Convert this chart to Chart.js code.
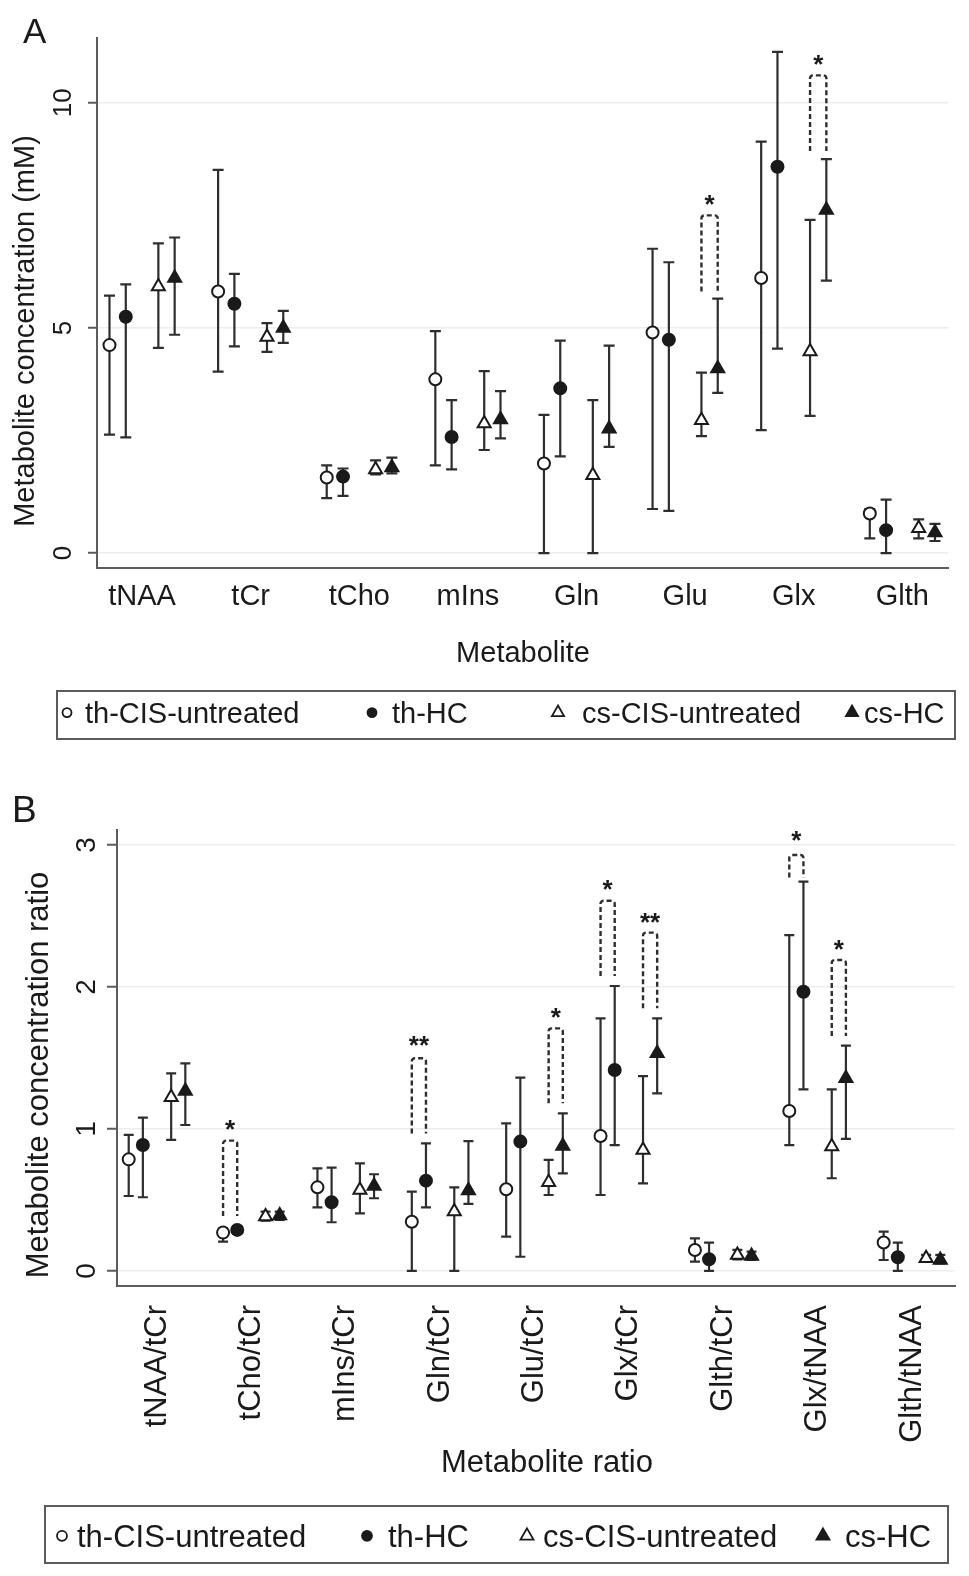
<!DOCTYPE html>
<html>
<head>
<meta charset="utf-8">
<script src="https://cdn.jsdelivr.net/npm/chart.js@4.4.1/dist/chart.umd.min.js"></script>
<style>
  html, body { margin: 0; padding: 0; background: #fff; }
  canvas { display: block; }
</style>
</head>
<body>
<canvas id="chartA" width="969" height="760"></canvas>
<canvas id="chartB" width="969" height="816"></canvas>
<script>
// series shared by both panels
const seriesNames = ['th-CIS-untreated', 'th-HC', 'cs-CIS-untreated', 'cs-HC'];
const seriesShape = ['circle', 'circle', 'triangle', 'triangle'];
const seriesFilled = [false, true, false, true];
const seriesOffset = [-0.3, -0.15, 0.15, 0.3];

// --- panel A: metabolite concentration (mM) ---
const metabolites = ['tNAA', 'tCr', 'tCho', 'mIns', 'Gln', 'Glu', 'Glx', 'Glth'];
const ticksA = [0, 5, 10];

const thCisA   = [4.62, 5.81, 1.68, 3.86, 1.99, 4.90, 6.11, 0.88];
const thCisLoA = [2.63, 4.03, 1.22, 1.95, 0.00, 0.98, 2.73, 0.33];
const thCisHiA = [5.72, 8.51, 1.95, 4.93, 3.07, 6.76, 9.14, 0.98];

const thHcA    = [5.25, 5.54, 1.70, 2.58, 3.66, 4.74, 8.58, 0.51];
const thHcLoA  = [2.57, 4.59, 1.27, 1.86, 2.15, 0.94, 4.54, 0.00];
const thHcHiA  = [5.97, 6.20, 1.88, 3.40, 4.72, 6.46, 11.13, 1.19];

const csCisA   = [5.92, 4.80, 1.86, 2.88, 1.73, 2.95, 4.48, 0.55];
const csCisLoA = [4.56, 4.47, 1.75, 2.29, 0.00, 2.60, 3.05, 0.33];
const csCisHiA = [6.88, 5.11, 2.06, 4.04, 3.40, 4.01, 7.40, 0.75];

const csHcA    = [6.11, 5.00, 1.90, 2.97, 2.76, 4.10, 7.62, 0.46];
const csHcLoA  = [4.85, 4.67, 1.77, 2.55, 2.36, 3.56, 6.05, 0.27];
const csHcHiA  = [7.01, 5.38, 2.12, 3.60, 4.61, 5.65, 8.75, 0.65];

// significance brackets: category (1-based), pair of series, top, leg end, star height, label
const bracketsA = [
  { cat: 6, pair: [2, 3], top: 7.50, base: 5.81, star: 7.88, mark: '*' },
  { cat: 7, pair: [2, 3], top: 10.61, base: 8.93, star: 11.00, mark: '*' }
];

// --- panel B: metabolite concentration ratio ---
const ratios = ['tNAA/tCr', 'tCho/tCr', 'mIns/tCr', 'Gln/tCr', 'Glu/tCr', 'Glx/tCr', 'Glth/tCr', 'Glx/tNAA', 'Glth/tNAA'];
const ticksB = [0, 1, 2, 3];

const thCisB   = [0.786, 0.270, 0.589, 0.347, 0.575, 0.951, 0.148, 1.127, 0.200];
const thCisLoB = [0.528, 0.207, 0.448, 0.000, 0.242, 0.535, 0.066, 0.887, 0.077];
const thCisHiB = [0.958, 0.300, 0.723, 0.559, 1.040, 1.779, 0.230, 2.366, 0.277];

const thHcB    = [0.887, 0.289, 0.484, 0.636, 0.911, 1.415, 0.082, 1.967, 0.096];
const thHcLoB  = [0.519, 0.265, 0.343, 0.448, 0.100, 0.887, 0.000, 1.279, 0.000];
const thHcHiB  = [1.080, 0.310, 0.728, 0.899, 1.362, 2.007, 0.200, 2.742, 0.200];

const csCisB   = [1.223, 0.383, 0.570, 0.418, 0.624, 0.852, 0.113, 0.876, 0.089];
const csCisLoB = [0.923, 0.354, 0.406, 0.000, 0.535, 0.617, 0.082, 0.653, 0.066];
const csCisHiB = [1.392, 0.418, 0.758, 0.589, 0.782, 1.373, 0.148, 1.279, 0.113];

const csHcB    = [1.268, 0.390, 0.599, 0.566, 0.880, 1.533, 0.106, 1.357, 0.077];
const csHcLoB  = [1.028, 0.359, 0.512, 0.472, 0.688, 1.251, 0.077, 0.930, 0.054];
const csHcHiB  = [1.462, 0.418, 0.681, 0.915, 1.110, 1.779, 0.136, 1.587, 0.113];

const bracketsB = [
  { cat: 2, pair: [0, 1], top: 0.918, base: 0.387, star: 1.04, mark: '*' },
  { cat: 4, pair: [0, 1], top: 1.498, base: 0.969, star: 1.63, mark: '**' },
  { cat: 5, pair: [2, 3], top: 1.709, base: 1.181, star: 1.833, mark: '*' },
  { cat: 6, pair: [0, 1], top: 2.608, base: 2.077, star: 2.73, mark: '*' },
  { cat: 6, pair: [2, 3], top: 2.383, base: 1.850, star: 2.50, mark: '**' },
  { cat: 8, pair: [0, 1], top: 2.930, base: 2.772, star: 3.08, mark: '*' },
  { cat: 8, pair: [2, 3], top: 2.190, base: 1.655, star: 2.31, mark: '*' }
];

const ink = '#1a1a1a';
const barColor = '#2e2e2e';
const axisColor = '#5c5c5c';
const gridColor = '#ededed';
const fontFamily = "'Liberation Sans', Arial, Helvetica, sans-serif";

Chart.defaults.font.family = fontFamily;
Chart.defaults.color = ink;

// vertical error bars with caps, drawn under the markers
const errorBars = {
  id: 'errorBars',
  beforeDatasetsDraw(chart, args, opts) {
    const { ctx, scales: { y } } = chart;
    ctx.save();
    ctx.strokeStyle = barColor;
    ctx.lineWidth = 2.2;
    chart.data.datasets.forEach((ds, di) => {
      chart.getDatasetMeta(di).data.forEach((pt, i) => {
        const lo = y.getPixelForValue(ds.errLo[i]);
        const hi = y.getPixelForValue(ds.errHi[i]);
        ctx.beginPath();
        ctx.moveTo(pt.x, lo); ctx.lineTo(pt.x, hi);
        ctx.moveTo(pt.x - opts.cap, lo); ctx.lineTo(pt.x + opts.cap, lo);
        ctx.moveTo(pt.x - opts.cap, hi); ctx.lineTo(pt.x + opts.cap, hi);
        ctx.stroke();
      });
    });
    ctx.restore();
  }
};

// dashed significance brackets and stars
const brackets = {
  id: 'brackets',
  afterDatasetsDraw(chart, args, opts) {
    const { ctx, scales: { x, y } } = chart;
    ctx.save();
    ctx.strokeStyle = barColor;
    ctx.lineWidth = 2.4;
    ctx.setLineDash([5, 3]);
    ctx.lineJoin = 'round';
    opts.items.forEach(b => {
      const x1 = x.getPixelForValue(b.cat + seriesOffset[b.pair[0]]);
      const x2 = x.getPixelForValue(b.cat + seriesOffset[b.pair[1]]);
      const yt = y.getPixelForValue(b.top);
      const yb = y.getPixelForValue(b.base);
      ctx.beginPath();
      ctx.moveTo(x1, yb);
      ctx.arcTo(x1, yt, x2, yt, 3);
      ctx.arcTo(x2, yt, x2, yb, 3);
      ctx.lineTo(x2, yb);
      ctx.stroke();
    });
    ctx.setLineDash([]);
    ctx.fillStyle = ink;
    ctx.font = `bold ${opts.starSize}px ${fontFamily}`;
    ctx.textAlign = 'center';
    ctx.textBaseline = 'alphabetic';
    opts.items.forEach(b => {
      const xm = x.getPixelForValue(b.cat + (seriesOffset[b.pair[0]] + seriesOffset[b.pair[1]]) / 2);
      ctx.fillText(b.mark, xm, y.getPixelForValue(b.star) + opts.starSize * 0.575);
    });
    ctx.restore();
  }
};

function drawMarker(ctx, shape, filled, x, y, r) {
  ctx.beginPath();
  if (shape === 'circle') {
    ctx.arc(x, y, r, 0, Math.PI * 2);
  } else {
    ctx.moveTo(x, y - r);
    ctx.lineTo(x + r * 0.866, y + r * 0.5);
    ctx.lineTo(x - r * 0.866, y + r * 0.5);
    ctx.closePath();
  }
  ctx.fillStyle = filled ? ink : '#fff';
  ctx.fill();
  ctx.stroke();
}

// panel letter, axis titles and the boxed legend
const panelDeco = {
  id: 'panelDeco',
  afterDraw(chart, args, o) {
    const ctx = chart.ctx;
    ctx.save();
    ctx.fillStyle = ink;
    ctx.font = `${o.letterSize}px ${fontFamily}`;
    ctx.textAlign = 'left';
    ctx.textBaseline = 'alphabetic';
    ctx.fillText(o.letter, o.letterX, o.letterY);

    ctx.font = `${o.titleSize}px ${fontFamily}`;
    ctx.textAlign = 'center';
    ctx.textBaseline = 'middle';
    ctx.fillText(o.xTitle, o.xTitleX, o.xTitleY);
    ctx.save();
    ctx.translate(o.yTitleX, o.yTitleY);
    ctx.rotate(-Math.PI / 2);
    ctx.fillText(o.yTitle, 0, 0);
    ctx.restore();

    const lg = o.legend;
    ctx.strokeStyle = axisColor;
    ctx.lineWidth = 2;
    ctx.strokeRect(lg.box[0], lg.box[1], lg.box[2] - lg.box[0], lg.box[3] - lg.box[1]);
    ctx.font = `${lg.size}px ${fontFamily}`;
    ctx.textAlign = 'left';
    ctx.textBaseline = 'alphabetic';
    const my = lg.baseline - lg.size * 0.36;
    seriesNames.forEach((name, s) => {
      ctx.strokeStyle = ink;
      ctx.lineWidth = 1.8;
      drawMarker(ctx, seriesShape[s], seriesFilled[s], lg.markerX[s], my,
        seriesShape[s] === 'circle' ? lg.circR : lg.triR);
      ctx.fillStyle = ink;
      ctx.fillText(name, lg.textX[s], lg.baseline);
    });
    ctx.restore();
  }
};

function buildPanel(canvasId, p) {
  const datasets = seriesNames.map((name, s) => {
    const r = seriesShape[s] === 'circle' ? p.circR : p.triR;
    return {
      label: name,
      data: p.cats.map((c, i) => ({ x: i + 1 + seriesOffset[s], y: p.mean[s][i] })),
      errLo: p.lo[s],
      errHi: p.hi[s],
      pointStyle: seriesShape[s],
      pointRadius: r,
      pointHoverRadius: r,
      pointBorderWidth: 2,
      pointHoverBorderWidth: 2,
      pointBackgroundColor: seriesFilled[s] ? ink : '#fff',
      pointBorderColor: ink
    };
  });

  return new Chart(document.getElementById(canvasId), {
    type: 'scatter',
    data: { datasets },
    options: {
      responsive: false,
      animation: false,
      events: [],
      layout: { padding: p.padding },
      plugins: {
        legend: { display: false },
        tooltip: { enabled: false },
        errorBars: { cap: p.cap },
        brackets: { items: p.brackets, starSize: p.starSize },
        panelDeco: p.deco
      },
      scales: {
        x: {
          type: 'linear',
          min: p.xMin,
          max: p.xMax,
          afterBuildTicks: s => { s.ticks = p.cats.map((c, i) => ({ value: i + 1 })); },
          afterFit: s => { s.height = p.xAxisHeight; },
          grid: { display: false, drawTicks: false },
          border: { display: true, color: axisColor, width: 2 },
          ticks: {
            autoSkip: false,
            minRotation: p.xRotation,
            maxRotation: p.xRotation,
            padding: p.xTickPad,
            color: ink,
            font: { size: p.xTickSize },
            callback: v => p.cats[Math.round(v) - 1]
          }
        },
        y: {
          type: 'linear',
          min: p.yMin,
          max: p.yMax,
          afterBuildTicks: s => { s.ticks = p.yTicks.map(v => ({ value: v })); },
          afterFit: s => { s.width = p.yAxisWidth; },
          grid: { color: gridColor, lineWidth: 1.5, tickColor: axisColor, tickLength: p.yTickLen, tickWidth: 2 },
          border: { display: true, color: axisColor, width: 2 },
          ticks: {
            minRotation: 90,
            maxRotation: 90,
            crossAlign: 'center',
            padding: p.yTickPad,
            color: ink,
            font: { size: p.yTickSize }
          }
        }
      }
    },
    plugins: [errorBars, brackets, panelDeco]
  });
}

buildPanel('chartA', {
  cats: metabolites,
  mean: [thCisA, thHcA, csCisA, csHcA],
  lo: [thCisLoA, thHcLoA, csCisLoA, csHcLoA],
  hi: [thCisHiA, thHcHiA, csCisHiA, csHcHiA],
  brackets: bracketsA,
  yTicks: ticksA,
  xMin: 0.585, xMax: 8.42,
  yMin: -0.33, yMax: 11.44,
  padding: { top: 38, right: 21, bottom: 92, left: 0 },
  xAxisHeight: 100,
  yAxisWidth: 97,
  xRotation: 0,
  xTickPad: 12,
  xTickSize: 29,
  yTickPad: 10,
  yTickSize: 26,
  yTickLen: 9,
  circR: 6,
  triR: 7.5,
  cap: 5.5,
  starSize: 26,
  deco: {
    letter: 'A', letterSize: 35, letterX: 23, letterY: 43,
    titleSize: 29,
    xTitle: 'Metabolite', xTitleX: 523, xTitleY: 654,
    yTitle: 'Metabolite concentration (mM)', yTitleX: 26, yTitleY: 331,
    legend: {
      box: [57, 691, 955, 739], size: 29, baseline: 723,
      markerX: [67, 372, 558, 852], textX: [85, 392, 582, 864],
      circR: 4.5, triR: 7
    }
  }
});

buildPanel('chartB', {
  cats: ratios,
  mean: [thCisB, thHcB, csCisB, csHcB],
  lo: [thCisLoB, thHcLoB, csCisLoB, csHcLoB],
  hi: [thCisHiB, thHcHiB, csCisHiB, csHcHiB],
  brackets: bracketsB,
  yTicks: ticksB,
  xMin: 0.576, xMax: 9.456,
  yMin: -0.106, yMax: 3.106,
  padding: { top: 70, right: 14, bottom: 94, left: 0 },
  xAxisHeight: 196,
  yAxisWidth: 117,
  xRotation: 90,
  xTickPad: 19,
  xTickSize: 31,
  yTickPad: 12,
  yTickSize: 28,
  yTickLen: 10,
  circR: 6,
  triR: 7.5,
  cap: 5,
  starSize: 26,
  deco: {
    letter: 'B', letterSize: 37, letterX: 12, letterY: 62,
    titleSize: 31,
    xTitle: 'Metabolite ratio', xTitleX: 547, xTitleY: 703,
    yTitle: 'Metabolite concentration ratio', yTitleX: 39, yTitleY: 315,
    legend: {
      box: [45, 746, 948, 803], size: 31, baseline: 787,
      markerX: [62, 367, 527, 823], textX: [77, 388, 543, 845],
      circR: 5, triR: 7.5
    }
  }
});
</script>
</body>
</html>
